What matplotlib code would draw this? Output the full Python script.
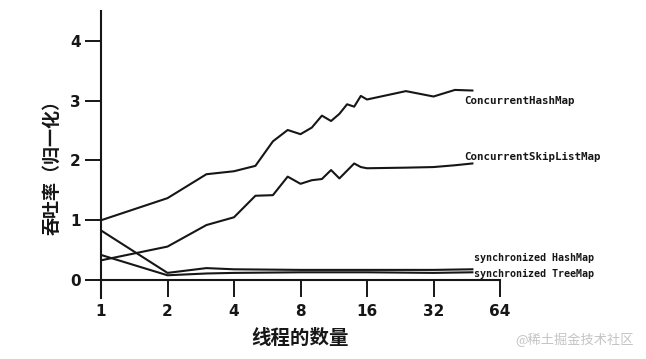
import matplotlib
matplotlib.use("Agg")
import matplotlib.pyplot as plt

# thread counts and normalised throughput
threads = [1, 2, 3, 4, 5, 6, 7, 8, 9, 10, 11, 12, 13, 14, 15, 16, 24, 32, 40, 48]
chm = [1.00, 1.37, 1.77, 1.82, 1.91, 2.32, 2.51, 2.44, 2.55, 2.75,
       2.66, 2.78, 2.94, 2.90, 3.08, 3.02, 3.16, 3.07, 3.18, 3.17]
cslm = [0.33, 0.56, 0.92, 1.05, 1.41, 1.42, 1.73, 1.61, 1.67, 1.69,
        1.84, 1.70, 1.83, 1.95, 1.89, 1.87, 1.88, 1.89, 1.92, 1.95]

sync_threads = [1, 2, 3, 4, 8, 16, 32, 48]
sync_hash = [0.83, 0.12, 0.20, 0.18, 0.17, 0.17, 0.17, 0.18]
sync_tree = [0.42, 0.08, 0.11, 0.12, 0.13, 0.13, 0.12, 0.13]

xticks = [1, 2, 4, 8, 16, 32, 64]
yticks = [0, 1, 2, 3, 4]

INK = "#161616"
CJK = ["Noto Sans CJK SC", "DejaVu Sans"]

fig = plt.figure(figsize=(6.46, 3.59), dpi=100)
ax = fig.add_axes([101 / 646, 61 / 359, 399 / 646, 287 / 359])

lw = 1.5
ax.plot(threads, chm, color=INK, lw=lw)
ax.plot(threads, cslm, color=INK, lw=lw)
ax.plot(sync_threads, sync_hash, color=INK, lw=lw)
ax.plot(sync_threads, sync_tree, color=INK, lw=lw)

ax.set_xscale("log", base=2)
ax.set_xlim(1, 64)
ax.set_ylim(-0.3, 4.5)
ax.set_xticks(xticks)
ax.set_xticklabels([str(t) for t in xticks])
ax.set_yticks(yticks)
ax.minorticks_off()

for s in ("top", "right"):
    ax.spines[s].set_visible(False)
ax.spines["bottom"].set_position(("data", 0))
ax.spines["bottom"].set_bounds(1, 64)
for s in ("left", "bottom"):
    ax.spines[s].set_linewidth(1.5)
    ax.spines[s].set_color(INK)

ax.tick_params(axis="x", direction="out", length=12, width=1.4, pad=5, colors=INK,
               labelsize=11)
ax.tick_params(axis="y", direction="out", length=11.5, width=1.4, pad=3, colors=INK,
               labelsize=11)
for lab in ax.get_xticklabels() + ax.get_yticklabels():
    lab.set_fontweight("bold")

ax.set_ylabel("吞吐率（归一化）", family=CJK, fontsize=13, fontweight="bold",
              color=INK)
ax.yaxis.set_label_coords(-0.10, 0.47)
fig.text(300 / 646, 1 - 338 / 359, "线程的数量", family=CJK, fontsize=14,
         fontweight="bold", color=INK, ha="center", va="center")

# series labels at the line ends
lab_kw = dict(textcoords="offset points", family="DejaVu Sans Mono",
              fontweight="bold", color=INK, va="center", ha="left",
              annotation_clip=False)
ax.annotate("ConcurrentHashMap", (threads[-1], chm[-1]), xytext=(-6, -7.5),
            fontsize=7.8, **lab_kw)
ax.annotate("ConcurrentSkipListMap", (threads[-1], cslm[-1]), xytext=(-6, 4.5),
            fontsize=7.8, **lab_kw)
ax.annotate("synchronized HashMap", (sync_threads[-1], sync_hash[-1]), xytext=(1.5, 8),
            fontsize=7.2, **lab_kw)
ax.annotate("synchronized TreeMap", (sync_threads[-1], sync_tree[-1]), xytext=(1.5, -1),
            fontsize=7.2, **lab_kw)

fig.text(634 / 646, 1 - 340 / 359, "@稀土掘金技术社区", family=CJK, fontsize=9.5,
         color="#c4c4c4", ha="right", va="center")

fig.savefig("out.png", dpi=100)
